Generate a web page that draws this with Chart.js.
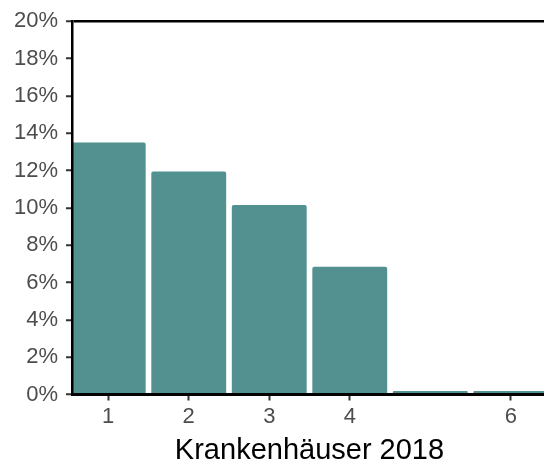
<!DOCTYPE html>
<html>
<head>
<meta charset="utf-8">
<script src="https://cdn.jsdelivr.net/npm/chart.js@4/dist/chart.umd.min.js"></script>
<style>
    html, body { margin: 0; padding: 0; background: #fff; overflow: hidden; }
    #wrap { width: 560px; height: 468px; }
</style>
</head>
<body>
<div id="wrap"><canvas id="chart" width="560" height="468"></canvas></div>
<script>
// Data
const categories = [1, 2, 3, 4, 5, 6];
const shares = [13.5, 11.95, 10.15, 6.85, 0.19, 0.19]; // percent
const xTickValues = [1, 2, 3, 4, 6]; // "5" has no tick in the original
const yTickValues = [0, 2, 4, 6, 8, 10, 12, 14, 16, 18, 20];
const xTitle = 'Krankenhäuser 2018';

const BAR_COLOR = '#52918f';
const TICK_GREY = '#4d4d4d';
const FONT = "'Liberation Sans', Arial, sans-serif";

const ctx = document.getElementById('chart').getContext('2d');
const chart = new Chart(ctx, {
    type: 'bar',
    data: {
        datasets: [{
            data: categories.map((c, i) => ({ x: c, y: shares[i] })),
            backgroundColor: BAR_COLOR,
            borderRadius: 2,
            barPercentage: 0.93,
            categoryPercentage: 1
        }]
    },
    options: {
        responsive: false,
        animation: false,
        layout: { padding: { top: 20, right: 13, left: 0, bottom: 0 } },
        plugins: { legend: { display: false }, tooltip: { enabled: false } },
        scales: {
            x: {
                type: 'linear',
                offset: false,
                min: 0.55,
                max: 6.45,
                afterBuildTicks: s => { s.ticks = xTickValues.map(v => ({ value: v })); },
                afterFit: s => { s.height = 73.5; },
                grid: { offset: false, drawOnChartArea: false, tickColor: '#333', tickLength: 6, tickWidth: 2 },
                border: { color: '#000', width: 3, z: 1 },
                ticks: { color: TICK_GREY, font: { family: FONT, size: 22 }, padding: 3, maxRotation: 0, autoSkip: false, callback: v => String(v) },
                title: { display: true, text: xTitle, color: '#000', font: { family: FONT, size: 29 }, padding: { top: 4, bottom: 0 } }
            },
            y: {
                min: 0,
                max: 20,
                afterBuildTicks: s => { s.ticks = yTickValues.map(v => ({ value: v })); },
                afterFit: s => { s.width = 72; },
                grid: {
                    color: c => (c.tick && c.tick.value === 20) ? '#000' : 'rgba(0,0,0,0)',
                    lineWidth: 2.5,
                    tickColor: '#333', tickLength: 6, tickWidth: 2
                },
                border: { color: '#000', width: 2.5, z: 1 },
                ticks: { color: TICK_GREY, font: { family: FONT, size: 22 }, padding: 8, callback: v => v + '%' }
            }
        }
    }
});
</script>
</body>
</html>
